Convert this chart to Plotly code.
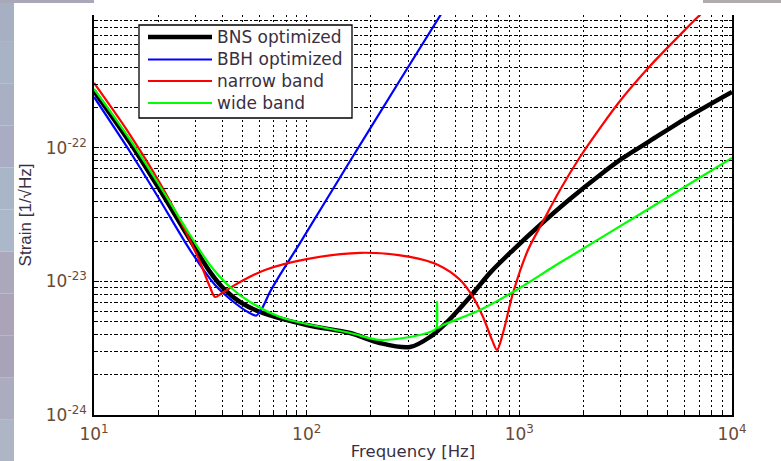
import plotly.graph_objects as go

# Strain sensitivity curves for four detector tunings (frequency in Hz, strain in 1/sqrt(Hz))
freq_bns = [10, 14.8, 20.4, 28.3, 35.1, 41.3, 48.6, 60.4, 100, 160, 221, 306, 380, 457,
            586, 728, 934, 1251, 1731, 2395, 3072, 4116, 6346, 10000]
strain_bns = [2.67e-22, 1.09e-22, 4.85e-23, 2.05e-23, 1.18e-23, 8.64e-24, 7.02e-24, 5.91e-24,
              4.72e-24, 4.11e-24, 3.46e-24, 3.23e-24, 3.84e-24, 4.97e-24, 7.66e-24, 1.16e-23,
              1.72e-23, 2.65e-23, 4.15e-23, 6.28e-23, 8.42e-23, 1.13e-22, 1.74e-22, 2.63e-22]

freq_bbh = [10, 14.8, 20.4, 28.3, 37.1, 46.0, 53.0, 57.8, 61.7, 67.2, 74.9, 93.0, 160, 275, 447]
strain_bbh = [2.41e-22, 9.33e-23, 4.08e-23, 1.72e-23, 9.41e-24, 6.90e-24, 5.90e-24, 5.55e-24,
              6.30e-24, 8.34e-24, 1.12e-23, 1.94e-23, 7.99e-23, 3.23e-22, 1.12e-21]

freq_nb = [10, 14.8, 20.4, 26.8, 31.5, 35.1, 37.1, 40.0, 48.6, 63.7, 100, 178, 306, 415, 526,
           605, 675, 744, 785, 838, 934, 1098, 1251, 1553, 1929, 2395, 2974, 4116, 5692,
           7069, 8320]
strain_nb = [3.07e-22, 1.25e-22, 5.47e-23, 2.43e-23, 1.40e-23, 9.09e-24, 7.66e-24, 8.20e-24,
             9.91e-24, 1.22e-23, 1.47e-23, 1.64e-23, 1.53e-23, 1.33e-23, 1.03e-23, 7.66e-24,
             5.42e-24, 3.65e-24, 3.07e-24, 4.11e-24, 8.20e-24, 1.72e-23, 2.56e-23, 4.85e-23,
             8.56e-23, 1.41e-22, 2.25e-22, 4.11e-22, 7.02e-22, 9.92e-22, 1.24e-21]

freq_wb = [10, 14.8, 20.4, 28.3, 35.1, 43.6, 54.2, 74.9, 100, 160, 221, 306, 380, 406, 410, 414,
           438, 653, 934, 1550, 4120, 10000]
strain_wb = [2.77e-22, 1.15e-22, 5.19e-23, 2.23e-23, 1.33e-23, 9.09e-24, 7.02e-24, 5.42e-24,
             4.80e-24, 4.11e-24, 3.65e-24, 3.84e-24, 4.18e-24, 4.45e-24, 7.02e-24, 4.50e-24,
             4.72e-24, 6.12e-24, 8.34e-24, 1.38e-23, 3.55e-23, 8.42e-23]

series_names = ["BNS optimized", "BBH optimized", "narrow band", "wide band"]

x_tick_vals = [10, 100, 1000, 10000]
x_tick_text = ["10<sup>1</sup>", "10<sup>2</sup>", "10<sup>3</sup>", "10<sup>4</sup>"]
y_tick_vals = [1e-24, 1e-23, 1e-22]
y_tick_text = ["10<sup>-24</sup>", "10<sup>-23</sup>", "10<sup>-22</sup>"]

W, H = 781, 461
L, R, T, B = 94, 49, 15, 46

label_font = "DejaVu Sans, Arial, sans-serif"
tick_color = "#6b4a35"
text_color = "#3a2f42"

colors = ["#000000", "#0000ff", "#ff0000", "#00ff00"]
widths = [4.5, 2.2, 2.2, 2.2]
smooth = [0.9, 0.7, 0.9, 0.9]

fig = go.Figure()
data = [(freq_bns, strain_bns), (freq_bbh, strain_bbh), (freq_nb, strain_nb), (freq_wb, strain_wb)]
for name, (fx, sy), col, wid, sm in zip(series_names, data, colors, widths, smooth):
    fig.add_trace(go.Scatter(
        x=fx, y=sy, mode="lines", name=name, showlegend=False,
        line=dict(color=col, width=wid, shape="spline", smoothing=sm),
    ))

grid_common = dict(gridcolor="#000000", gridwidth=1)

fig.update_xaxes(
    type="log", range=[1, 4], automargin=False,
    tickmode="array", tickvals=x_tick_vals, ticktext=x_tick_text,
    ticks="inside", ticklen=5, tickcolor="#000000", tickwidth=1,
    showline=True, linecolor="#000000", linewidth=1.5, mirror=False,
    showgrid=True, griddash="2px,3px", **grid_common,
    minor=dict(dtick="D1", ticks="inside", ticklen=3, tickcolor="#000000",
               showgrid=True, griddash="2px,3px", **grid_common),
    tickfont=dict(family=label_font, size=17, color=tick_color),
    ticklabelstandoff=3,
    title=dict(text="Frequency [Hz]", font=dict(family=label_font, size=16.5, color=text_color),
               standoff=5),
)

fig.update_yaxes(
    type="log", range=[-24, -21.004], automargin=False,
    tickmode="array", tickvals=y_tick_vals, ticktext=y_tick_text,
    ticks="inside", ticklen=5, tickcolor="#000000", tickwidth=1,
    showline=True, linecolor="#000000", linewidth=1.5, mirror="ticks",
    showgrid=True, griddash="4px,2px,2px,2px", **grid_common,
    minor=dict(dtick="D1", ticks="inside", ticklen=3, tickcolor="#000000",
               showgrid=True, griddash="4px,2px,2px,2px", **grid_common),
    tickfont=dict(family=label_font, size=17, color=tick_color),
    ticklabelstandoff=2,
    title=dict(text="Strain [1/√Hz]",
               font=dict(family="Liberation Sans Narrow, Arial Narrow, sans-serif", size=17,
                         color=text_color),
               standoff=10),
)


def px_x(p):
    return (p - L) / (W - L - R)


def px_y(p):
    return (H - B - p) / (H - T - B)


shapes = []
# slide background strips around the figure
strip_cols = ["#a7b0c3", "#a9b3c6", "#aab0c4", "#a9acc2", "#a9b6c8", "#aab8ca",
              "#aca8bb", "#aba3b7", "#a9a3ba", "#abacc0", "#aeb6c6"]
n = len(strip_cols)
for i, c in enumerate(strip_cols):
    shapes.append(dict(type="rect", xref="paper", yref="paper",
                       x0=px_x(0), x1=px_x(14), y0=px_y(H * (i + 1) / n), y1=px_y(H * i / n),
                       fillcolor=c, line=dict(width=0), layer="above"))
shapes.append(dict(type="rect", xref="paper", yref="paper", x0=px_x(0), x1=px_x(94),
                   y0=px_y(3), y1=px_y(0), fillcolor="#a8a8b8", line=dict(width=0)))
shapes.append(dict(type="rect", xref="paper", yref="paper", x0=px_x(703), x1=px_x(W),
                   y0=px_y(3), y1=px_y(0), fillcolor="#b0acac", line=dict(width=0)))

# legend box with line keys
shapes.append(dict(type="rect", xref="paper", yref="paper",
                   x0=px_x(139), x1=px_x(352), y0=px_y(118), y1=px_y(25),
                   fillcolor="#ffffff", line=dict(color="#000000", width=1.3), layer="above"))
annotations = []
key_rows = [37, 59.5, 81, 103]
for name, col, wid, yr in zip(series_names, colors, widths, key_rows):
    shapes.append(dict(type="line", xref="paper", yref="paper",
                       x0=px_x(148), x1=px_x(212), y0=px_y(yr), y1=px_y(yr),
                       line=dict(color=col, width=wid), layer="above"))
    annotations.append(dict(xref="paper", yref="paper", x=px_x(215), y=px_y(yr),
                            xanchor="left", yanchor="middle", showarrow=False, text=name,
                            font=dict(family=label_font, size=17, color=text_color)))

fig.update_layout(
    width=W, height=H,
    margin=dict(l=L, r=R, t=T, b=B, autoexpand=False),
    paper_bgcolor="#ffffff", plot_bgcolor="#ffffff",
    shapes=shapes, annotations=annotations,
    showlegend=False,
)

fig.write_html("out.html")
